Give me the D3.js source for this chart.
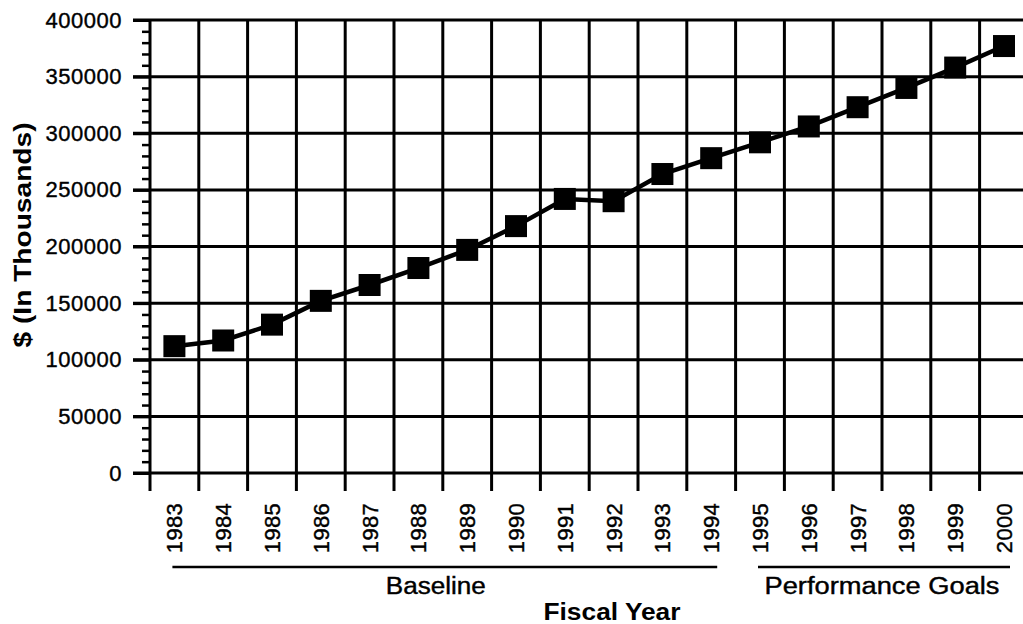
<!DOCTYPE html>
<html>
<head>
<meta charset="utf-8">
<script src="https://cdn.jsdelivr.net/npm/d3@7"></script>
<style>
  html, body { margin: 0; padding: 0; background: #fff; }
  svg { display: block; font-family: "Liberation Sans", Arial, Helvetica, sans-serif; }
  .lbl { stroke: #000; stroke-width: 0.4px; }
</style>
</head>
<body>
<svg id="chart" width="1023" height="624"></svg>
<script>
// Fiscal years and funding ($ thousands)
const years = [1983, 1984, 1985, 1986, 1987, 1988, 1989, 1990, 1991, 1992,
               1993, 1994, 1995, 1996, 1997, 1998, 1999, 2000];
const amounts = [112000, 117000, 131000, 152000, 166000, 181000, 197000, 218000, 242000, 240000,
                 264000, 278000, 292000, 306000, 323000, 340000, 358000, 377000];
const yTicks = [0, 50000, 100000, 150000, 200000, 250000, 300000, 350000, 400000];
const periods = [
  { label: "Baseline", from: 1983, to: 1994, width: 100, shift: -9 },
  { label: "Performance Goals", from: 1995, to: 2000, width: 235, shift: -2 }
];

const svg = d3.select("#chart");
const W = 1023;
const plotLeft = 150, plotTop = 20, plotBottom = 473;
const step = 48.8;

const x = d3.scaleBand().domain(years).range([plotLeft, plotLeft + step * years.length]).padding(0);
const y = d3.scaleLinear().domain([0, 400000]).range([plotBottom, plotTop]);

const ink = "#000";

// horizontal gridlines (extend left as major ticks)
svg.append("g").selectAll("line").data(yTicks).join("line")
  .attr("x1", plotLeft - 17).attr("x2", W)
  .attr("y1", d => y(d)).attr("y2", d => y(d))
  .attr("stroke", ink).attr("stroke-width", 3);

// vertical gridlines at band boundaries, running down as axis ticks
const bounds = years.map(d => x(d)).concat([x(years[years.length - 1]) + x.bandwidth()]);
svg.append("g").selectAll("line").data(bounds).join("line")
  .attr("x1", d => d).attr("x2", d => d)
  .attr("y1", plotTop).attr("y2", plotBottom + 18)
  .attr("stroke", ink).attr("stroke-width", 3);

// y axis labels
const yAxis = svg.append("g")
  .attr("transform", `translate(${plotLeft},0)`)
  .call(d3.axisLeft(y).tickValues(yTicks).tickSize(17).tickPadding(11).tickFormat(d3.format("d")));
yAxis.select(".domain").remove();
yAxis.selectAll("line").attr("stroke", ink).attr("stroke-width", 3);
yAxis.selectAll("text").attr("class", "lbl").attr("fill", ink)
  .style("font-size", "22px").style("letter-spacing", "0.5px");

// minor ticks every 10000
const minor = d3.range(0, 400001, 10000).filter(v => v % 50000 !== 0);
const yMinor = svg.append("g")
  .attr("transform", `translate(${plotLeft},0)`)
  .call(d3.axisLeft(y).tickValues(minor).tickSize(8).tickFormat(""));
yMinor.select(".domain").remove();
yMinor.selectAll("line").attr("stroke", ink).attr("stroke-width", 2.5);

// x axis labels (rotated years)
const xAxis = svg.append("g")
  .attr("transform", `translate(0,${plotBottom})`)
  .call(d3.axisBottom(x).tickSize(0).tickPadding(0));
xAxis.select(".domain").remove();
xAxis.selectAll("text")
  .attr("class", "lbl")
  .attr("fill", ink)
  .style("font-size", "22px")
  .style("letter-spacing", "0.3px")
  .attr("text-anchor", "end")
  .attr("transform", "rotate(-90)")
  .attr("x", -30).attr("y", 0).attr("dy", "0.36em");

// data line and square markers
const cx = d => x(d) + x.bandwidth() / 2;
const pts = years.map((yr, i) => [cx(yr), y(amounts[i])]);
svg.append("path")
  .attr("d", d3.line()(pts))
  .attr("fill", "none").attr("stroke", ink).attr("stroke-width", 4.5);
const sq = 22;
svg.append("g").selectAll("rect").data(pts).join("rect")
  .attr("x", d => d[0] - sq / 2).attr("y", d => d[1] - sq / 2)
  .attr("width", sq).attr("height", sq).attr("fill", ink);

// period brackets
const brY = 567;
const g = svg.append("g");
periods.forEach(p => {
  const x1 = cx(p.from) - 2, x2 = cx(p.to) + 6;
  g.append("line").attr("x1", x1).attr("x2", x2).attr("y1", brY).attr("y2", brY)
    .attr("stroke", ink).attr("stroke-width", 2.5);
  g.append("text").attr("class", "lbl").attr("x", (x1 + x2) / 2 + p.shift).attr("y", 594)
    .attr("text-anchor", "middle").style("font-size", "23px").attr("fill", ink)
    .attr("textLength", p.width).attr("lengthAdjust", "spacingAndGlyphs")
    .text(p.label);
});

// axis titles
svg.append("text")
  .attr("x", 612).attr("y", 620)
  .attr("text-anchor", "middle").style("font-size", "23px").style("font-weight", "bold")
  .attr("textLength", 137).attr("lengthAdjust", "spacingAndGlyphs")
  .text("Fiscal Year");
svg.append("text")
  .attr("transform", "translate(31,235) rotate(-90)")
  .attr("text-anchor", "middle").style("font-size", "23px").style("font-weight", "bold")
  .attr("textLength", 225).attr("lengthAdjust", "spacingAndGlyphs")
  .text("$ (In  Thousands)");
</script>
</body>
</html>
